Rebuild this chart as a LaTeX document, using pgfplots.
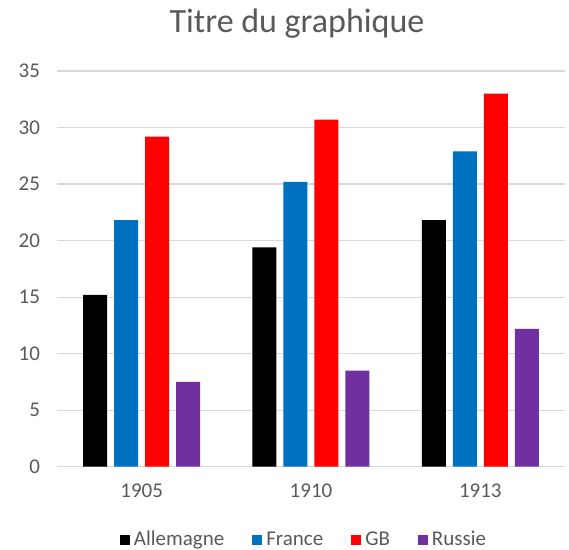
\documentclass[border=0pt]{standalone}
\usepackage{pgfplots}
\pgfplotsset{compat=1.18}
\usepackage{fontspec}
\setmainfont{Carlito}
\definecolor{txtgray}{HTML}{595959}
\definecolor{gridgray}{HTML}{D9D9D9}
\definecolor{cFrance}{HTML}{0070C0}
\definecolor{cGB}{HTML}{FF0000}
\definecolor{cRussie}{HTML}{7030A0}
\begin{document}
\begin{tikzpicture}
\useasboundingbox (-28.5pt,-41.65pt) rectangle (256pt,233.35pt);
\begin{axis}[
  scale only axis,
  width=254pt, height=197.85pt,
  at={(0,0)}, anchor=south west,
  ybar=3.5pt, bar width=12pt,
  xmin=-0.5, xmax=2.5,
  ymin=0, ymax=35,
  xtick={0,1,2},
  xticklabels={1905,1910,1913},
  ytick={0,5,...,35},
  major tick length=0pt,
  axis line style={draw=none},
  ymajorgrids, grid style={gridgray, line width=0.6pt},
  tick label style={font=\fontsize{10.5}{12}\selectfont, text=txtgray},
  /pgf/number format/assume math mode=true,
  yticklabel style={xshift=-5pt},
  xticklabel style={yshift=-5pt},
  title={Titre du graphique},
  title style={font=\fontsize{17}{20}\selectfont, text=txtgray, at={(0.5,1)}, anchor=center, yshift=17.5pt, xshift=-7pt},
  legend columns=4,
  legend style={draw=none, fill=none, at={(0.5,-0.185)}, anchor=center, xshift=-3pt,
    font=\fontsize{10.5}{12}\selectfont, text=txtgray,
    /tikz/every even column/.append style={column sep=12pt}},
  legend image code/.code={\fill[#1] (0pt,-2.5pt) rectangle (5pt,2.5pt);},
  legend cell align=left,
]
\addplot[fill=black, draw=none] coordinates {(0,15.2) (1,19.4) (2,21.8)};
\addplot[fill=cFrance, draw=none] coordinates {(0,21.8) (1,25.2) (2,27.9)};
\addplot[fill=cGB, draw=none] coordinates {(0,29.2) (1,30.7) (2,33.0)};
\addplot[fill=cRussie, draw=none] coordinates {(0,7.5) (1,8.5) (2,12.2)};
\legend{Allemagne, France, GB, Russie}
\end{axis}
\end{tikzpicture}
\end{document}
